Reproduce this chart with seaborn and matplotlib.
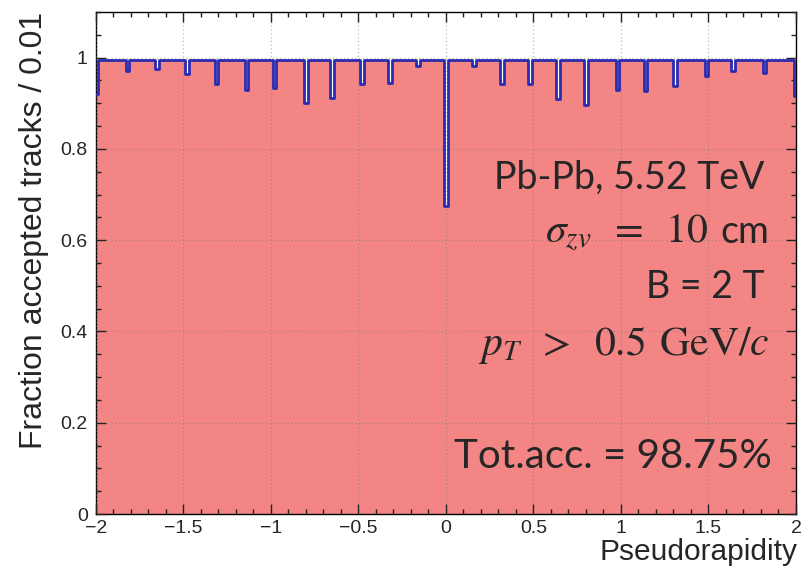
import matplotlib.pyplot as plt
import matplotlib.ticker as mticker
import numpy as np
import pandas as pd
import seaborn as sns

# ================= data =================
# pseudorapidity binning, 0.01 wide bins
eta_lo, eta_hi, n_bins = -2.0, 2.0, 400
base_fraction = 0.995

# dips: left edge of dip, number of bins, fraction
dip_start = [-2.00, -1.83, -1.66, -1.49, -1.32, -1.15, -0.99, -0.81, -0.66, -0.49, -0.33, -0.17,
             -0.01, 0.15, 0.31, 0.47, 0.63, 0.79, 0.97, 1.13, 1.30, 1.48, 1.63, 1.81, 1.99]
dip_nbins = [1, 2, 2, 2, 2, 2, 2, 2, 2, 2, 2, 2,
             2, 2, 2, 2, 2, 2, 2, 2, 2, 2, 2, 2, 1]
dip_frac = [0.920, 0.970, 0.975, 0.964, 0.942, 0.929, 0.933, 0.900, 0.911, 0.942, 0.944, 0.981,
            0.675, 0.981, 0.942, 0.942, 0.909, 0.896, 0.929, 0.927, 0.938, 0.959, 0.970, 0.966, 0.915]

label_coll = "Pb-Pb, 5.52 TeV"
label_sigma = r"$\sigma_{zv}\;\;=\;\;10$"
label_sigma_unit = "cm"
label_field = "B = 2 T"
label_pt = r"$p_T\;\;>\;\;0.5\;\,\mathrm{GeV}/c$"
total_acc = "Tot.acc. = 98.75%"

# ================= build histogram table =================
edges = np.linspace(eta_lo, eta_hi, n_bins + 1)
centers = (edges[:-1] + edges[1:]) / 2
frac = np.full(n_bins, base_fraction)
for start, nb, val in zip(dip_start, dip_nbins, dip_frac):
    i0 = int(round((start - eta_lo) / 0.01))
    frac[i0:i0 + nb] = val
df = pd.DataFrame({"eta": centers, "frac": frac})

# ================= plot =================
sns.set_style("ticks")
plt.rcParams["font.family"] = ["Liberation Sans", "DejaVu Sans"]
plt.rcParams["mathtext.fontset"] = "stix"

fig = plt.figure(figsize=(8.02, 5.71), dpi=100)
ax = fig.add_axes([0.1197, 0.0998, 0.8728, 0.8792])

sns.histplot(data=df, x="eta", weights="frac", bins=n_bins, binrange=(eta_lo, eta_hi),
             element="step", fill=True, color="#f38585", alpha=1.0, linewidth=0, ax=ax)
sns.histplot(data=df, x="eta", weights="frac", bins=n_bins, binrange=(eta_lo, eta_hi),
             element="step", fill=False, color="#2b2bb0", linewidth=2.0, ax=ax)
for ln in ax.lines:
    ln.set_zorder(3)

ax.set_xlim(-2, 2)
ax.set_ylim(0, 1.1)
ax.xaxis.set_major_locator(mticker.MultipleLocator(0.5))
ax.xaxis.set_minor_locator(mticker.MultipleLocator(0.1))
ax.yaxis.set_major_locator(mticker.MultipleLocator(0.2))
ax.yaxis.set_minor_locator(mticker.MultipleLocator(0.05))
fmt = mticker.FuncFormatter(lambda v, p: f"{v:g}".replace("-", "\u2212"))
ax.xaxis.set_major_formatter(fmt)
ax.yaxis.set_major_formatter(fmt)

ax.tick_params(which="both", direction="in", top=True, right=True, labelsize=14,
               color="#222222", width=1.0)
ax.tick_params(which="major", length=7.5, pad=6)
ax.tick_params(axis="x", which="major", pad=4)
ax.tick_params(which="minor", length=3.8)

ax.set_axisbelow(False)
ax.grid(True, which="major", linestyle=(0, (1, 2)), color="#777777", linewidth=0.9, alpha=0.5)

for s in ax.spines.values():
    s.set_color("black")
    s.set_linewidth(1.0)

ax.set_xlabel("Pseudorapidity", fontsize=21.5, ha="right", va="top")
ax.xaxis.set_label_coords(1.002, -0.047)
ax.set_ylabel("Fraction accepted tracks / 0.01", fontsize=23, loc="top", labelpad=8)

txt_font = ["Lato", "DejaVu Sans"]
txt_kw = dict(transform=ax.transAxes, ha="right", va="baseline", fontsize=27,
              family=txt_font, zorder=5)
ax.text(0.955, 0.647, label_coll, **txt_kw)
t_cm = ax.text(0.962, 0.540, label_sigma_unit, **txt_kw)
ax.text(0.955, 0.430, label_field, **txt_kw)
ax.text(0.962, 0.317, label_pt, transform=ax.transAxes, ha="right", va="baseline",
        fontsize=30, zorder=5)
txt_kw["fontsize"] = 29
ax.text(0.966, 0.092, total_acc, **txt_kw)

# math part of the sigma line sits just left of "cm"
fig.canvas.draw()
bb = t_cm.get_window_extent()
x_ax = ax.transAxes.inverted().transform((bb.x0 - 12, bb.y0))[0]
ax.text(x_ax, 0.540, label_sigma, transform=ax.transAxes, ha="right", va="baseline",
        fontsize=30, zorder=5)

fig.savefig("out.png", dpi=100)
